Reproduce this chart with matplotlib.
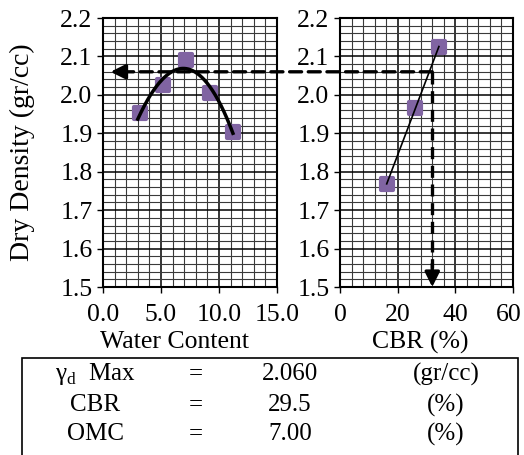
import numpy as np
import matplotlib
matplotlib.use("Agg")
import matplotlib.pyplot as plt
from matplotlib.patches import ConnectionPatch, Rectangle
from matplotlib.markers import MarkerStyle
from matplotlib.transforms import ScaledTranslation

plt.rcParams['font.family'] = ['Liberation Serif', 'DejaVu Serif']
plt.rcParams['mathtext.fontset'] = 'custom'
plt.rcParams['mathtext.rm'] = 'Liberation Serif'

# Data
water_content = [3.2, 5.15, 7.15, 9.2, 11.2]
dry_density_wc = [1.954, 2.025, 2.092, 2.006, 1.904]
cbr_values = [16.2, 26.0, 34.3]
dry_density_cbr = [1.767, 1.965, 2.124]
gamma_max = 2.06
cbr_read = 32.0
table_rows = [["γ$_\\mathregular{d}$  Max", "=", "2.060", "(gr/cc)"],
              ["CBR", "=", "29.5", "(%)"],
              ["OMC", "=", "7.00", "(%)"]]
wc_ticks = [0.0, 5.0, 10.0, 15.0]
cbr_ticks = [0, 20, 40, 60]
dd_ticks = [1.5, 1.6, 1.7, 1.8, 1.9, 2.0, 2.1, 2.2]

W, H = 524, 455
fig = plt.figure(figsize=(W / 100, H / 100), dpi=100)

def ax_rect(x0, x1, y0, y1):
    return [x0 / W, 1 - y1 / H, (x1 - x0) / W, (y1 - y0) / H]

ax1 = fig.add_axes(ax_rect(103, 277, 18, 287))
ax2 = fig.add_axes(ax_rect(340, 513, 18, 287))

purple = '#8064A2'
fs_tick = 18.5
fs_lab = 18.5

def style(ax, xlim, minor_x, xticks, xfmt):
    ax.set_xlim(*xlim)
    ax.set_ylim(1.5, 2.2)
    ax.set_xticks(xticks)
    ax.set_xticklabels([xfmt.format(v) for v in xticks], fontsize=fs_tick)
    ax.set_yticks(dd_ticks)
    ax.set_yticklabels(['{:.1f}'.format(v) for v in dd_ticks], fontsize=fs_tick)
    ax.set_xticks(np.arange(xlim[0], xlim[1] + 1e-9, minor_x), minor=True)
    ax.set_yticks(np.arange(1.5, 2.2 + 1e-9, 0.02), minor=True)
    ax.grid(which='minor', color='#3a3a3a', lw=0.8)
    ax.grid(which='major', color='black', lw=1.1)
    ax.tick_params(which='minor', length=0)
    ax.tick_params(which='major', length=4.5, width=1, direction='out', pad=3)
    ax.tick_params(axis='x', which='major', pad=8)
    for s in ax.spines.values():
        s.set_linewidth(1.5)
    ax.set_axisbelow(True)

style(ax1, (0, 15), 1, wc_ticks, '{:.1f}')
style(ax2, (0, 60), 4, cbr_ticks, '{:.0f}')

# nudge the last CBR tick label so it stays inside the figure
last = ax2.get_xticklabels()[-1]
last.set_transform(last.get_transform() + ScaledTranslation(-4 / 100, 0, fig.dpi_scale_trans))

mk = MarkerStyle('s', joinstyle='round')

# Left: points + polynomial trendline
ax1.plot(water_content, dry_density_wc, linestyle='none', marker=mk, color=purple,
         ms=9, mec=purple, mew=3, zorder=3)
coef = np.polyfit(water_content, dry_density_wc, 3)
xs = np.linspace(min(water_content) - 0.2, max(water_content), 200)
ax1.plot(xs, np.polyval(coef, xs), color='black', lw=2.5, zorder=4)

# Right: points + linear trendline
ax2.plot(cbr_values, dry_density_cbr, linestyle='none', marker=mk, color=purple,
         ms=9, mec=purple, mew=3, zorder=3)
c2 = np.polyfit(cbr_values, dry_density_cbr, 1)
xs2 = np.array([min(cbr_values), max(cbr_values)])
ax2.plot(xs2, np.polyval(c2, xs2), color='black', lw=1.2, zorder=4)

dash = (0, (3.6, 2.0))
con = ConnectionPatch(xyA=(cbr_read, gamma_max), coordsA=ax2.transData,
                      xyB=(1.6, gamma_max), coordsB=ax1.transData,
                      color='black', lw=2.4, linestyle=dash, zorder=5)
fig.add_artist(con)
ax1.annotate('', xy=(0.65, gamma_max), xytext=(1.7, gamma_max),
             arrowprops=dict(arrowstyle='-|>', color='black', lw=2.4,
                             mutation_scale=22, shrinkA=0, shrinkB=0), zorder=6)
ax2.plot([cbr_read, cbr_read], [gamma_max, 1.55], color='black', lw=2.4,
         linestyle=dash, zorder=5)
ax2.annotate('', xy=(cbr_read, 1.5), xytext=(cbr_read, 1.56),
             arrowprops=dict(arrowstyle='-|>', color='black', lw=2.4,
                             mutation_scale=22, shrinkA=0, shrinkB=0), zorder=6)

ax1.set_ylabel('Dry Density (gr/cc)', fontsize=20, va='center')
ax1.yaxis.set_label_coords((22 - 103) / 174, 0.5)
ax1.set_xlabel('Water Content', fontsize=fs_lab, va='center')
ax1.xaxis.set_label_coords((174 - 103) / 174, (287 - 342) / 269)
ax2.set_xlabel('CBR (%)', fontsize=fs_lab, va='center')
ax2.xaxis.set_label_coords((420 - 340) / 173, (287 - 342) / 269)

# table box
fig.add_artist(Rectangle((22 / W, -0.05), (518 - 22) / W, 1 - 358 / H + 0.05,
                         transform=fig.transFigure, fill=False, ec='black', lw=1.2))
col_x = [95, 196, 290, 446]
row_y = [374, 405, 434]
for r, row in enumerate(table_rows):
    for c, txt in enumerate(row):
        fig.text(col_x[c] / W, 1 - row_y[r] / H, txt, ha='center', va='center',
                 fontsize=18)

fig.savefig('out.png', dpi=100)
